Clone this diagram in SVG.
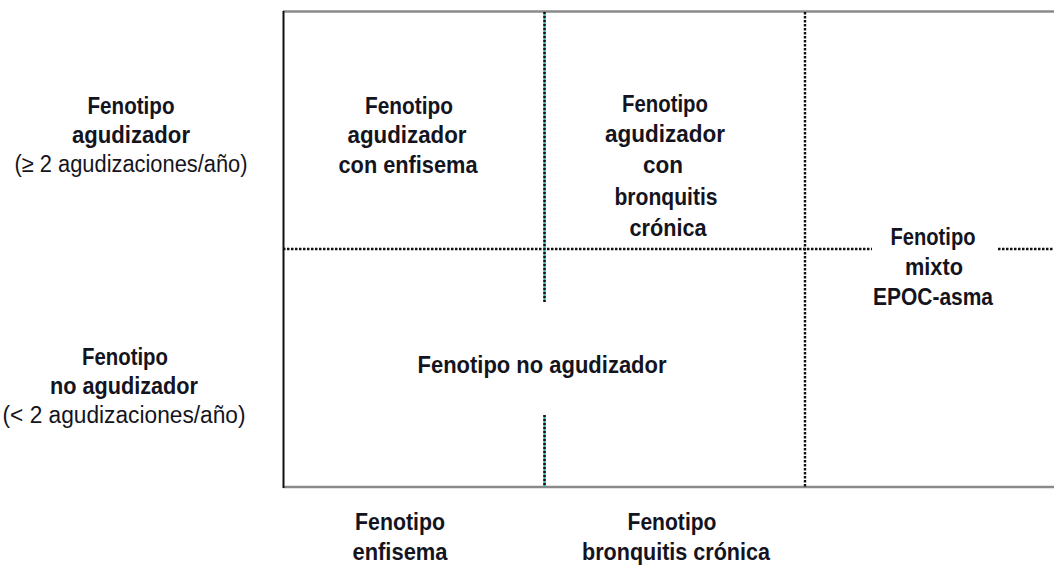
<svg xmlns="http://www.w3.org/2000/svg" width="1054" height="567" viewBox="0 0 1054 567">
<style>
text{font-family:"Liberation Sans",Arial,sans-serif;font-size:23.5px;fill:#141420;text-anchor:middle}
.b{font-weight:bold}
.r{font-weight:normal}
.dot{stroke:#111;stroke-width:2.4;stroke-dasharray:2.5 1.5;fill:none}
.teal{stroke:#3aa89a;stroke-width:2.4;fill:none}
.dk{stroke:#111;stroke-width:2.4;stroke-dasharray:2 2;fill:none}
</style>
<rect width="1054" height="567" fill="#fff"/>
<g id="connectors">
<line x1="283" y1="11.5" x2="1054" y2="11.5" stroke="#8a8a8a" stroke-width="2.5"/>
<line x1="283" y1="487" x2="1054" y2="487" stroke="#8a8a8a" stroke-width="2.5"/>
<line x1="283.5" y1="11" x2="283.5" y2="488" stroke="#111" stroke-width="2"/>
<line class="dot" x1="283" y1="249" x2="872" y2="249"/>
<line class="dot" x1="998" y1="249" x2="1054" y2="249"/>
<line class="dot" x1="805" y1="12" x2="805" y2="487"/>
<line class="teal" x1="544.5" y1="12" x2="544.5" y2="302"/>
<line class="dk" x1="544.5" y1="12" x2="544.5" y2="302"/>
<line class="teal" x1="544.5" y1="415" x2="544.5" y2="487"/>
<line class="dk" x1="544.5" y1="415" x2="544.5" y2="487"/>
</g>
<g id="row-agudizador">
<text class="b" x="131" y="114" textLength="87" lengthAdjust="spacingAndGlyphs">Fenotipo</text>
<text class="b" x="131" y="143" textLength="118" lengthAdjust="spacingAndGlyphs">agudizador</text>
<text class="r" x="131" y="172" textLength="233" lengthAdjust="spacingAndGlyphs">(≥ 2 agudizaciones/año)</text>
</g>
<g id="row-no-agudizador">
<text class="b" x="125" y="365" textLength="86" lengthAdjust="spacingAndGlyphs">Fenotipo</text>
<text class="b" x="124" y="394" textLength="148" lengthAdjust="spacingAndGlyphs">no agudizador</text>
<text class="r" x="124" y="423" textLength="243" lengthAdjust="spacingAndGlyphs">(&lt; 2 agudizaciones/año)</text>
</g>
<g id="cell-enfisema">
<text class="b" x="409" y="114" textLength="88" lengthAdjust="spacingAndGlyphs">Fenotipo</text>
<text class="b" x="407" y="143" textLength="119" lengthAdjust="spacingAndGlyphs">agudizador</text>
<text class="b" x="408" y="173" textLength="139" lengthAdjust="spacingAndGlyphs">con enfisema</text>
</g>
<g id="cell-bronquitis">
<text class="b" x="665" y="112" textLength="86" lengthAdjust="spacingAndGlyphs">Fenotipo</text>
<text class="b" x="665" y="142" textLength="120" lengthAdjust="spacingAndGlyphs">agudizador</text>
<text class="b" x="663" y="173" textLength="40" lengthAdjust="spacingAndGlyphs">con</text>
<text class="b" x="666" y="205" textLength="103" lengthAdjust="spacingAndGlyphs">bronquitis</text>
<text class="b" x="668" y="236" textLength="77" lengthAdjust="spacingAndGlyphs">crónica</text>
</g>
<g id="cell-mixto">
<text class="b" x="933" y="245" textLength="85" lengthAdjust="spacingAndGlyphs">Fenotipo</text>
<text class="b" x="934" y="275" textLength="58" lengthAdjust="spacingAndGlyphs">mixto</text>
<text class="b" x="933" y="305" textLength="120" lengthAdjust="spacingAndGlyphs">EPOC-asma</text>
</g>
<g id="cell-no-agudizador">
<text class="b" x="542" y="373" textLength="249" lengthAdjust="spacingAndGlyphs">Fenotipo no agudizador</text>
</g>
<g id="col-enfisema">
<text class="b" x="400" y="530" textLength="90" lengthAdjust="spacingAndGlyphs">Fenotipo</text>
<text class="b" x="400" y="560" textLength="95" lengthAdjust="spacingAndGlyphs">enfisema</text>
</g>
<g id="col-bronquitis">
<text class="b" x="672" y="530" textLength="89" lengthAdjust="spacingAndGlyphs">Fenotipo</text>
<text class="b" x="676" y="560" textLength="188" lengthAdjust="spacingAndGlyphs">bronquitis crónica</text>
</g>
</svg>
